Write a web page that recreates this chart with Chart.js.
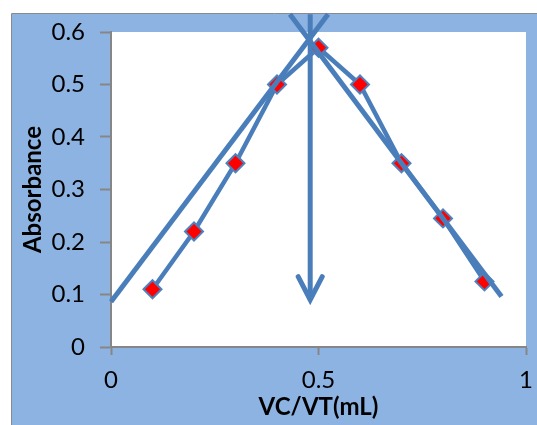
<!DOCTYPE html>
<html>
<head>
<meta charset="utf-8">
<script src="https://cdn.jsdelivr.net/npm/chart.js@4/dist/chart.umd.min.js"></script>
<style>
  html, body { margin: 0; padding: 0; background: #ffffff; }
  #chart { display: block; }
</style>
</head>
<body>
<canvas id="chart" width="537" height="425"></canvas>
<script>
// Job's method of continuous variation: absorbance against mole fraction
const volumeRatio = [0.1, 0.2, 0.3, 0.4, 0.5, 0.6, 0.7, 0.8, 0.9];
const absorbance  = [0.11, 0.22, 0.35, 0.50, 0.57, 0.50, 0.35, 0.245, 0.125];

// Extrapolated straight lines of the rising and falling branches
const risingX  = [0, 0.523];
const risingY  = [0.086, 0.634];
const fallingX = [0.431, 0.941];
const fallingY = [0.634, 0.096];

// Arrow marking the intersection (stoichiometric ratio)
const arrowX = [0.48, 0.48];
const arrowY = [0.634, 0.09];
const arrowHeadX = [0.451, 0.48, 0.509];
const arrowHeadY = [0.134, 0.09, 0.134];

const xTicks = [0, 0.5, 1];
const yTicks = [0, 0.1, 0.2, 0.3, 0.4, 0.5, 0.6];

const LINE_BLUE = '#4A7EBB';
const FRAME_BLUE = '#8DB3E2';
const AXIS_GREY = '#868686';

const pts = (xs, ys) => xs.map((x, i) => ({ x: x, y: ys[i] }));

const framePlugin = {
  id: 'frame',
  beforeDraw(chart) {
    const ctx = chart.ctx;
    const a = chart.chartArea;
    ctx.save();
    ctx.fillStyle = '#ffffff';
    ctx.fillRect(0, 0, chart.width, chart.height);
    ctx.fillStyle = FRAME_BLUE;
    ctx.fillRect(11, 14, chart.width - 11, chart.height - 14);
    ctx.strokeStyle = '#8a8a8a';
    ctx.lineWidth = 1;
    ctx.beginPath();
    ctx.moveTo(11.5, chart.height);
    ctx.lineTo(11.5, 13.5);
    ctx.lineTo(chart.width, 13.5);
    ctx.stroke();
    ctx.fillStyle = '#ffffff';
    ctx.fillRect(a.left, a.top, a.right - a.left, a.bottom - a.top);
    ctx.restore();
  }
};

const lineSet = (data, width) => ({
  data: data,
  showLine: true,
  borderColor: LINE_BLUE,
  backgroundColor: LINE_BLUE,
  borderWidth: width,
  pointRadius: 0,
  clip: false,
  order: 1
});

new Chart(document.getElementById('chart'), {
  type: 'scatter',
  data: {
    datasets: [
      lineSet(pts(risingX, risingY), 5),
      lineSet(pts(fallingX, fallingY), 5),
      lineSet(pts(arrowX, arrowY), 5),
      Object.assign(lineSet(pts(arrowHeadX, arrowHeadY), 5), { borderCapStyle: 'round', borderJoinStyle: 'miter' }),
      {
        data: pts(volumeRatio, absorbance),
        showLine: true,
        borderColor: LINE_BLUE,
        borderWidth: 4.5,
        pointStyle: 'rectRot',
        pointRadius: 9,
        pointBackgroundColor: '#FF0000',
        pointBorderColor: '#4F81BD',
        pointBorderWidth: 2,
        clip: false,
        order: 2
      }
    ]
  },
  options: {
    responsive: false,
    devicePixelRatio: 1,
    animation: false,
    layout: { padding: { top: 32, right: 11, left: 0, bottom: 0 } },
    plugins: { legend: { display: false }, tooltip: { enabled: false } },
    scales: {
      x: {
        type: 'linear',
        min: 0,
        max: 1,
        afterBuildTicks(scale) { scale.ticks = xTicks.map(v => ({ value: v })); },
        afterFit(scale) {
          scale.height = 78;
          scale.paddingLeft = 0;
          scale.paddingRight = 0;
        },
        grid: { drawOnChartArea: false, tickLength: 8, color: AXIS_GREY, tickWidth: 2 },
        border: { color: AXIS_GREY, width: 2 },
        ticks: {
          color: '#000000',
          padding: 11,
          maxRotation: 0,
          font: { family: 'Lato', size: 24 },
          callback: v => String(v)
        },
        title: {
          display: true,
          text: 'VC/VT(mL)',
          color: '#000000',
          font: { family: 'Lato', size: 24, weight: 'bold' },
          padding: { top: 0, bottom: 3 }
        }
      },
      y: {
        type: 'linear',
        min: 0,
        max: 0.6,
        afterBuildTicks(scale) { scale.ticks = yTicks.map(v => ({ value: v })); },
        afterFit(scale) { scale.width = 111; },
        grid: { drawOnChartArea: false, tickLength: 11, color: AXIS_GREY, tickWidth: 2 },
        border: { color: AXIS_GREY, width: 2 },
        ticks: {
          color: '#000000',
          padding: 15,
          font: { family: 'Lato', size: 24 },
          callback: v => String(Math.round(v * 10) / 10)
        },
        title: {
          display: true,
          text: 'Absorbance',
          color: '#000000',
          font: { family: 'Lato', size: 24, weight: 'bold' },
          padding: { top: 19, bottom: 0 }
        }
      }
    }
  },
  plugins: [framePlugin]
});
</script>
</body>
</html>
